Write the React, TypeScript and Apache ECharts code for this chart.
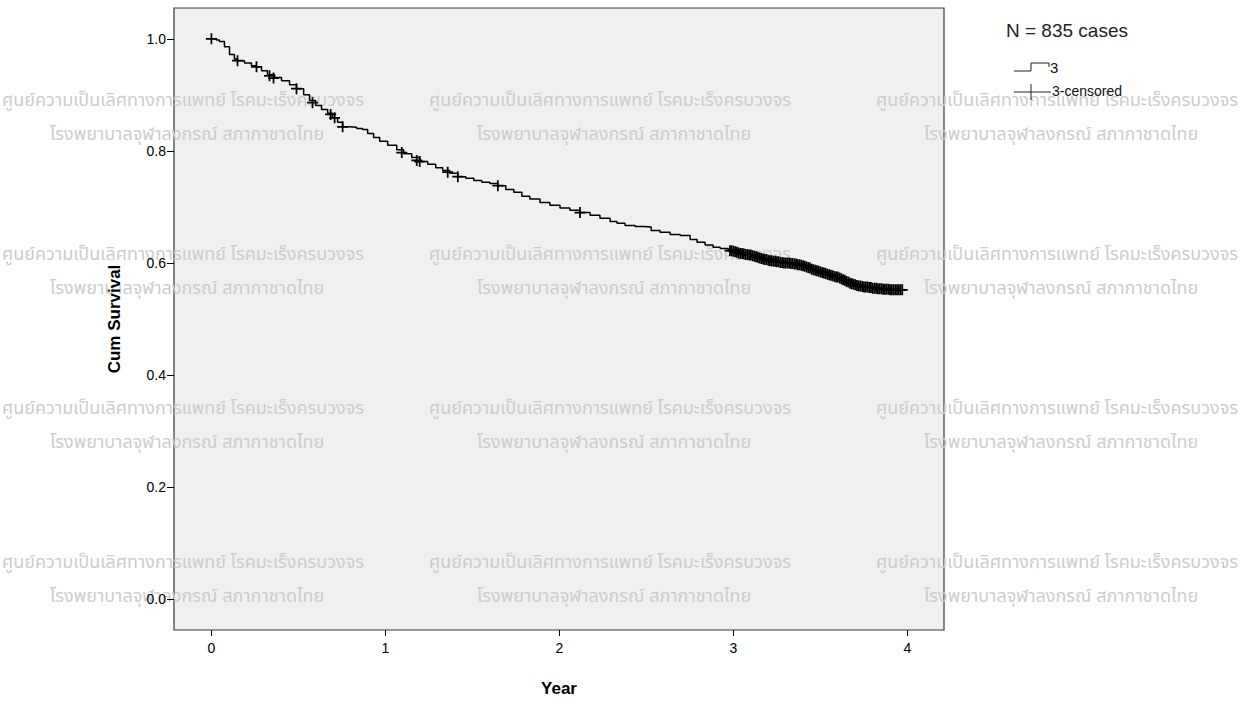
import React, { useEffect, useRef } from "react";
import * as echarts from "echarts";

// Kaplan-Meier survival curve (time in years, cumulative survival)
const survTime = [
  0, 0.029, 0.046, 0.075, 0.104, 0.132, 0.15, 0.19, 0.23, 0.259, 0.288, 0.322, 0.363, 0.403, 0.449,
  0.489, 0.53, 0.564, 0.599, 0.633, 0.668, 0.696, 0.725, 0.754, 0.794, 0.835, 0.869, 0.898, 0.932,
  0.967, 1.013, 1.065, 1.105, 1.151, 1.197, 1.243, 1.289, 1.329, 1.37, 1.416, 1.462, 1.508, 1.554,
  1.6, 1.646, 1.692, 1.738, 1.784, 1.83, 1.888, 1.945, 2.003, 2.06, 2.118, 2.176, 2.233, 2.291,
  2.331, 2.377, 2.435, 2.481, 2.527, 2.578, 2.636, 2.694, 2.751, 2.791, 2.837, 2.883, 2.924, 2.97,
  3.039, 3.096, 3.171, 3.24, 3.309, 3.367, 3.413, 3.453, 3.499, 3.557, 3.597, 3.643, 3.689, 3.729,
  3.77, 3.816, 3.885, 3.931, 3.988,
];
const survValue = [
  1.0, 0.998, 0.995, 0.986, 0.972, 0.964, 0.961, 0.957, 0.952, 0.95, 0.943, 0.936, 0.931, 0.925, 0.918,
  0.911, 0.9, 0.89, 0.881, 0.874, 0.867, 0.859, 0.851, 0.843, 0.842, 0.84, 0.838, 0.831, 0.824,
  0.817, 0.81, 0.802, 0.795, 0.788, 0.781, 0.776, 0.77, 0.765, 0.76, 0.754, 0.751, 0.747, 0.744,
  0.742, 0.738, 0.731, 0.726, 0.719, 0.714, 0.708, 0.703, 0.698, 0.694, 0.69, 0.685, 0.68, 0.674,
  0.671, 0.667, 0.665, 0.664, 0.658, 0.655, 0.651, 0.649, 0.642, 0.637, 0.632, 0.628, 0.626, 0.623,
  0.617, 0.614, 0.607, 0.603, 0.6, 0.598, 0.594, 0.589, 0.584, 0.578, 0.575, 0.569, 0.562, 0.559,
  0.557, 0.555, 0.553, 0.552, 0.552,
];

// Censored observations (time, survival at censoring)
const censorTime = [
  0.0, 0.15, 0.259, 0.334, 0.357, 0.489, 0.581, 0.685, 0.708, 0.754, 1.094, 1.18, 1.197, 1.358, 1.416,
  1.646, 2.118,
  2.98, 2.99, 3.0, 3.01, 3.02, 3.03, 3.04, 3.05, 3.06, 3.07, 3.08, 3.09, 3.1, 3.11, 3.12, 3.13, 3.14,
  3.15, 3.16, 3.17, 3.18, 3.19, 3.2, 3.21, 3.22, 3.23, 3.24, 3.25, 3.26, 3.27, 3.28, 3.29, 3.3, 3.31,
  3.32, 3.33, 3.34, 3.35, 3.36, 3.37, 3.38, 3.39, 3.4, 3.41, 3.42, 3.43, 3.44, 3.45, 3.46, 3.47, 3.48,
  3.49, 3.5, 3.51, 3.52, 3.53, 3.54, 3.55, 3.56, 3.57, 3.58, 3.59, 3.6, 3.61, 3.62, 3.63, 3.64, 3.65,
  3.66, 3.67, 3.68, 3.69, 3.7, 3.71, 3.72, 3.73, 3.74, 3.75, 3.76, 3.77, 3.78, 3.79, 3.8, 3.81, 3.82,
  3.83, 3.84, 3.85, 3.86, 3.87, 3.88, 3.89, 3.9, 3.91, 3.92, 3.93, 3.94, 3.95, 3.96, 3.97,
];
const censorValue = [
  1.0, 0.961, 0.95, 0.934, 0.93, 0.911, 0.886, 0.865, 0.859, 0.843, 0.797, 0.783, 0.781, 0.762, 0.754,
  0.738, 0.69,
  0.622, 0.622, 0.621, 0.62, 0.619, 0.618, 0.617, 0.617, 0.616, 0.615, 0.615, 0.614, 0.614, 0.613, 0.612,
  0.611, 0.61, 0.609, 0.608, 0.607, 0.606, 0.606, 0.605, 0.604, 0.604, 0.603, 0.603, 0.602, 0.602, 0.601,
  0.601, 0.6, 0.6, 0.6, 0.6, 0.599, 0.599, 0.598, 0.598, 0.597, 0.597, 0.596, 0.595, 0.594, 0.593, 0.592,
  0.591, 0.589, 0.588, 0.587, 0.586, 0.585, 0.584, 0.583, 0.582, 0.581, 0.58, 0.579, 0.578, 0.577, 0.576,
  0.575, 0.575, 0.573, 0.572, 0.57, 0.569, 0.567, 0.566, 0.564, 0.563, 0.562, 0.561, 0.56, 0.559, 0.559,
  0.558, 0.557, 0.557, 0.557, 0.556, 0.556, 0.555, 0.555, 0.555, 0.554, 0.554, 0.554, 0.553, 0.553, 0.553,
  0.553, 0.552, 0.552, 0.552, 0.552, 0.552, 0.552, 0.552, 0.552,
];

const yTicks = [0, 0.2, 0.4, 0.6, 0.8, 1.0];
const xTicks = [0, 1, 2, 3, 4];

const caseCountLabel = "N = 835 cases";
const groupLabel = "3";
const censoredLabel = "3-censored";
const xTitle = "Year";
const yTitle = "Cum Survival";

const watermarkLine1 = "ศูนย์ความเป็นเลิศทางการแพทย์ โรคมะเร็งครบวงจร";
const watermarkLine2 = "โรงพยาบาลจุฬาลงกรณ์ สภากาชาดไทย";
const watermarkCols = [183, 610, 1057];
const watermarkRows = [100, 254, 408, 562];

const CROSS = "path://M4.2,0 H5.8 V4.2 H10 V5.8 H5.8 V10 H4.2 V5.8 H0 V4.2 H4.2 Z";

export default function App() {
  const ref = useRef<HTMLDivElement>(null);

  useEffect(() => {
    if (!ref.current) return;
    const chart = echarts.init(ref.current, undefined, { renderer: "svg" });

    const font = "'Liberation Sans', Arial, sans-serif";
    const thaiFont = "'Noto Sans Thai', 'Noto Sans', 'DejaVu Sans', sans-serif";

    const wm: any[] = [];
    watermarkRows.forEach((ry) => {
      watermarkCols.forEach((cx) => {
        wm.push({
          type: "text",
          x: cx,
          y: ry,
          z: 1,
          silent: true,
          style: {
            text: watermarkLine1,
            font: `18px ${thaiFont}`,
            fill: "#cccccc",
            align: "center",
            verticalAlign: "middle",
          },
        });
        wm.push({
          type: "text",
          x: cx + 4,
          y: ry + 34,
          z: 1,
          silent: true,
          style: {
            text: watermarkLine2,
            font: `18px ${thaiFont}`,
            fill: "#cccccc",
            align: "center",
            verticalAlign: "middle",
          },
        });
      });
    });

    const legend: any[] = [
      {
        type: "text",
        left: 1006,
        top: 21,
        z: 5,
        style: { text: caseCountLabel, font: `19px ${font}`, fill: "#222" },
      },
      {
        type: "polyline",
        z: 5,
        shape: { points: [[1014, 71], [1031, 71], [1031, 63], [1049, 63], [1049, 67]] },
        style: { stroke: "#222", lineWidth: 1, fill: "none" },
      },
      {
        type: "text",
        left: 1050,
        top: 60,
        z: 5,
        style: { text: groupLabel, font: `15px ${font}`, fill: "#111" },
      },
      {
        type: "line",
        z: 5,
        shape: { x1: 1014, y1: 92, x2: 1051, y2: 92 },
        style: { stroke: "#222", lineWidth: 1 },
      },
      {
        type: "line",
        z: 5,
        shape: { x1: 1031, y1: 84, x2: 1031, y2: 100 },
        style: { stroke: "#222", lineWidth: 1 },
      },
      {
        type: "text",
        left: 1052,
        top: 84,
        z: 5,
        style: { text: censoredLabel, font: `14px ${font}`, fill: "#111" },
      },
    ];

    chart.setOption({
      animation: false,
      backgroundColor: "#ffffff",
      grid: {
        left: 174,
        top: 8,
        width: 770,
        height: 625,
        show: true,
        backgroundColor: "#f0f0f0",
        borderColor: "#3a3a3a",
        borderWidth: 1.2,
        containLabel: false,
      },
      xAxis: {
        type: "value",
        min: -0.215,
        max: 4.21,
        z: 3,
        name: xTitle,
        nameLocation: "middle",
        nameGap: 50,
        nameTextStyle: { fontFamily: font, fontWeight: "bold", fontSize: 17, color: "#000" },
        axisLine: { show: false, onZero: false },
        axisTick: {
          show: true,
          length: 6,
          customValues: xTicks,
          lineStyle: { color: "#000", width: 1 },
        },
        axisLabel: {
          customValues: xTicks,
          formatter: (v: number) => String(Math.round(v)),
          fontFamily: font,
          fontSize: 14,
          color: "#000",
          margin: 11,
        },
        splitLine: { show: false },
      },
      yAxis: {
        type: "value",
        min: -0.055,
        max: 1.055,
        z: 3,
        name: yTitle,
        nameLocation: "middle",
        nameGap: 51,
        nameRotate: 90,
        nameTextStyle: { fontFamily: font, fontWeight: "bold", fontSize: 17, color: "#000" },
        axisLine: { show: false, onZero: false },
        axisTick: {
          show: true,
          length: 7,
          customValues: yTicks,
          lineStyle: { color: "#000", width: 1 },
        },
        axisLabel: {
          customValues: yTicks,
          formatter: (v: number) => v.toFixed(1),
          fontFamily: font,
          fontSize: 14,
          color: "#000",
          margin: 8,
        },
        splitLine: { show: false },
      },
      graphic: [...wm, ...legend],
      series: [
        {
          type: "line",
          name: groupLabel,
          step: "end",
          showSymbol: false,
          symbol: "none",
          data: survTime.map((t, i) => [t, survValue[i]]),
          lineStyle: { color: "#000", width: 1.5 },
          z: 3,
        },
        {
          type: "scatter",
          name: censoredLabel,
          symbol: CROSS,
          symbolSize: 11,
          data: censorTime.map((t, i) => [t, censorValue[i]]),
          itemStyle: { color: "#000", opacity: 1 },
          z: 4,
        },
      ],
    });

    return () => chart.dispose();
  }, []);

  return (
    <div
      ref={ref}
      style={{ position: "fixed", left: 0, top: 0, width: 1245, height: 702 }}
    />
  );
}
